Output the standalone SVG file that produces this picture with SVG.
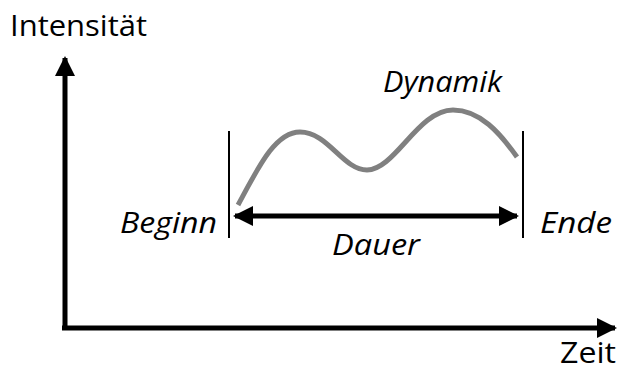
<svg xmlns="http://www.w3.org/2000/svg" width="621" height="371" viewBox="0 0 621 371">
<style>
.lbl{font-family:"Open Sans","Noto Sans","Liberation Sans",sans-serif;font-size:30px;fill:#000}
.it{font-style:italic}
.axis{stroke:#000;stroke-width:5;fill:none}
.bar{stroke:#000;stroke-width:2;fill:none}
</style>
<defs>
<marker id="ah" viewBox="0 0 10 10" refX="9" refY="5" markerWidth="4" markerHeight="4" orient="auto-start-reverse" markerUnits="strokeWidth">
<path d="M0,0 L10,5 L0,10 Z" fill="#000"/>
</marker>
</defs>
<rect width="621" height="371" fill="#fff"/>
<g id="connectors">
<path class="axis" d="M65,330 L65,58" marker-end="url(#ah)"/>
<path class="axis" d="M62,328 L615,328" marker-end="url(#ah)"/>
<path class="axis" d="M235,216 L517,216" stroke-width="4" marker-start="url(#ah)" marker-end="url(#ah)"/>
</g>
<g id="curve">
<path d="M238,205 C258,168 275,132 300,132 C328,132 343,170 367,170 C395,170 418,110 453,110 C480,110 500,133 517,157" fill="none" stroke="#808080" stroke-width="5"/>
</g>
<g id="bars">
<line class="bar" x1="229" y1="131" x2="229" y2="238"/>
<line class="bar" x1="523" y1="131" x2="523" y2="238"/>
</g>
<g id="labels">
<text class="lbl" x="10" y="36" textLength="137" lengthAdjust="spacingAndGlyphs">Intensität</text>
<text class="lbl it" x="383" y="92" textLength="119" lengthAdjust="spacingAndGlyphs">Dynamik</text>
<text class="lbl it" x="120" y="233" textLength="97" lengthAdjust="spacingAndGlyphs">Beginn</text>
<text class="lbl it" x="540" y="233" textLength="72" lengthAdjust="spacingAndGlyphs">Ende</text>
<text class="lbl it" x="332" y="255" textLength="88" lengthAdjust="spacingAndGlyphs">Dauer</text>
<text class="lbl" x="560" y="363" font-size="24" textLength="56" lengthAdjust="spacingAndGlyphs">Zeit</text>
</g>
</svg>
